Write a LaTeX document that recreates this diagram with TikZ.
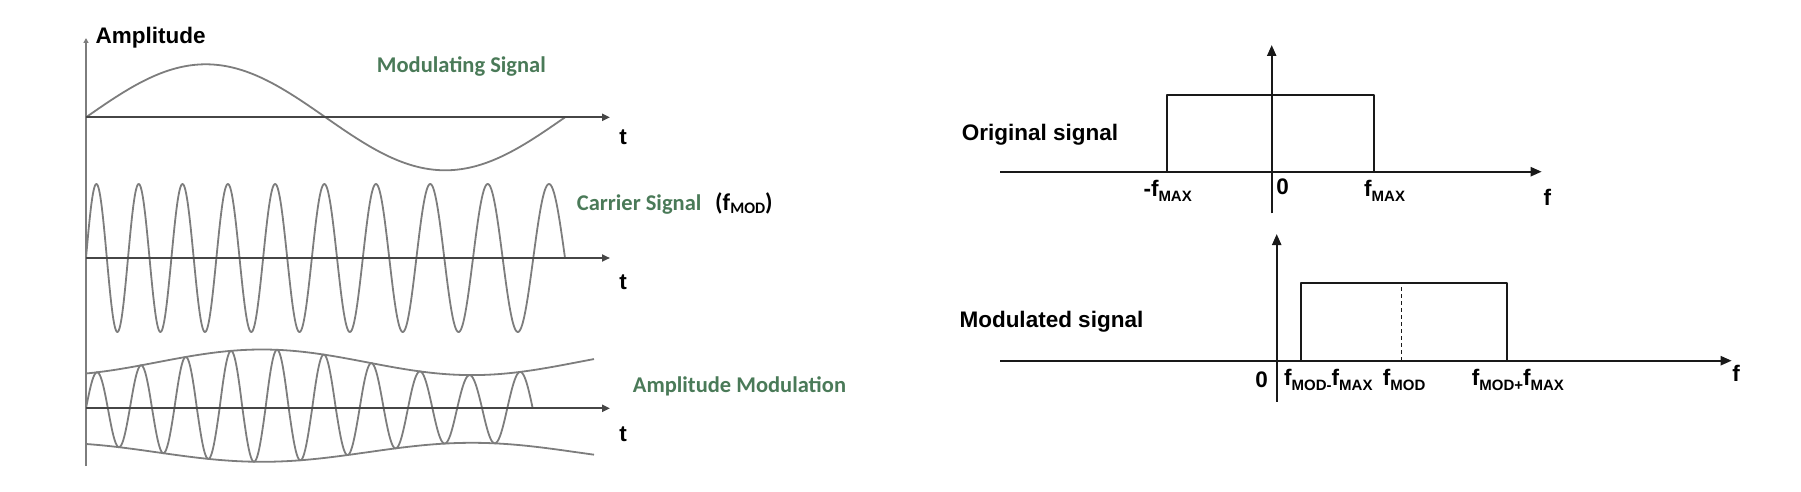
\documentclass[tikz,border=0pt]{standalone}
\usepackage{fontspec}
\setmainfont{Liberation Sans}
\newfontfamily\calib{Carlito}
\usetikzlibrary{arrows.meta}
\definecolor{lblgreen}{RGB}{74,122,88}
\definecolor{wavegray}{RGB}{125,125,125}
\definecolor{axisgray}{RGB}{70,70,70}
\definecolor{specblack}{RGB}{25,25,25}
\newcommand{\subtx}[1]{\raisebox{-5pt}{\fontsize{15}{15}\selectfont #1}}
\newcommand{\subcb}[1]{\raisebox{-3pt}{\fontsize{16}{16}\selectfont #1}}
\begin{document}
\begin{tikzpicture}[x=1pt,y=-1pt,line join=round,
  declare function={
    sC(\t)=(\t-86)/479;
    phC(\t)=3420*(sC(\t)+0.22*sC(\t)*(1-sC(\t)));
    sA(\t)=(\t-86)/446.7;
    phA(\t)=3420*(sA(\t)+0.08*sA(\t)*(1-sA(\t)));
    thA(\t)=(\t-262)/420*360;
    amU(\t)=46+12.8*cos(thA(\t));
    amL(\t)=44+9.5*cos(thA(\t));
    modS(\t)=117.3-53*sin((\t-86)/479*360);
  },
  wave/.style={draw=wavegray, line width=1.8pt},
  taxis/.style={draw=axisgray, line width=2.2pt, -{Triangle[length=8pt,width=7pt]}},
  vaxis/.style={draw=wavegray, line width=2pt, -{Triangle[length=5pt,width=5pt]}},
  saxis/.style={draw=specblack, line width=2.2pt, -{Triangle[length=11pt,width=9pt]}},
  sline/.style={draw=specblack, line width=2.2pt},
  dline/.style={draw=specblack, line width=1.5pt, dash pattern=on 4pt off 3pt},
  lbl/.style={inner sep=0pt, anchor=base west, font=\fontsize{22.5}{27}\selectfont\bfseries},
  clbl/.style={lbl, anchor=base},
  glbl/.style={inner sep=0pt, anchor=base west, font=\fontsize{22.5}{27}\selectfont\calib\bfseries, text=lblgreen},
  blbl/.style={inner sep=0pt, anchor=base west, font=\fontsize{24}{28}\selectfont\calib\bfseries}
]
\useasboundingbox (0,0) rectangle (1801,492);

% ---------- left panel: time domain ----------
\coordinate (vbot) at (86,466);
\coordinate (vtop) at (86,38);
\coordinate (a1s) at (86,117.3);  \coordinate (a1e) at (610,117.3);
\coordinate (a2s) at (86,258);    \coordinate (a2e) at (610,258);
\coordinate (a3s) at (86,408.3);  \coordinate (a3e) at (610,408.3);

% waves
\draw[wave] plot[domain=86:565, samples=200, smooth] (\x, {modS(\x)});
\draw[wave] plot[domain=86:565, samples=700] (\x, {258-74*sin(phC(\x))});
\draw[wave] plot[domain=86:594, samples=120, smooth] (\x, {408.3-amU(\x)});
\draw[wave] plot[domain=86:594, samples=120, smooth] (\x, {408.3+amL(\x)});
\draw[wave] plot[domain=86:532.7, samples=700] (\x, {408.3-max(sin(phA(\x)),0)*amU(\x)-min(sin(phA(\x)),0)*amL(\x)});

% axes
\draw[vaxis] (vbot) -- (vtop);
\draw[taxis] (a1s) -- (a1e);
\draw[taxis] (a2s) -- (a2e);
\draw[taxis] (a3s) -- (a3e);

% labels
\node[lbl] (amp) at (95.5,44) {Amplitude};
\node[glbl] (modl) at (376.7,73) {Modulating Signal};
\node[glbl] (carl) at (576.7,210.7) {Carrier Signal};
\node[blbl] (fmod) at (715,210.7) {(f\subcb{MOD})};
\node[glbl] (aml) at (632.7,392.3) {Amplitude Modulation};
\node[clbl] (t1) at (623,145) {t};
\node[clbl] (t2) at (623,289.3) {t};
\node[clbl] (t3) at (623,441.7) {t};

% ---------- right panel: spectra ----------
\coordinate (ual) at (1000,171.7);   \coordinate (uar) at (1541.7,171.7);
\coordinate (uvb) at (1271.7,213.3); \coordinate (uvt) at (1271.7,45);
\coordinate (lal) at (1000,360.7);   \coordinate (lar) at (1731.7,360.7);
\coordinate (lvb) at (1276.7,401.7); \coordinate (lvt) at (1276.7,234);

\coordinate (r1a) at (1167.3,171.7); \coordinate (r1b) at (1167.3,95);
\coordinate (r1c) at (1374.3,95);    \coordinate (r1d) at (1374.3,171.7);
\coordinate (r2a) at (1300.7,360.7); \coordinate (r2b) at (1300.7,282.7);
\coordinate (r2c) at (1506.7,282.7); \coordinate (r2d) at (1506.7,360.7);
\coordinate (dsb) at (1401.7,360.7); \coordinate (dst) at (1401.7,282.7);

\draw[sline] (r1a) -- (r1b) -- (r1c) -- (r1d);
\draw[sline] (r2a) -- (r2b) -- (r2c) -- (r2d);
\draw[dline] (dsb) -- (dst);
\draw[saxis] (ual) -- (uar);
\draw[saxis] (uvb) -- (uvt);
\draw[saxis] (lal) -- (lar);
\draw[saxis] (lvb) -- (lvt);

\node[lbl] (orig) at (961.7,140) {Original signal};
\node[lbl] (modd) at (959.3,327.7) {Modulated signal};
\node[lbl] (mfmax) at (1143.3,196.7) {-f\subtx{MAX}};
\node[clbl] (zero1) at (1282.7,194) {0};
\node[lbl] (pfmax) at (1364,196.7) {f\subtx{MAX}};
\node[clbl] (f1) at (1547.3,205) {f};
\node[clbl] (zero2) at (1261.7,387.3) {0};
\node[lbl] (lowb) at (1284,385) {f\subtx{MOD-}f\subtx{MAX}};
\node[lbl] (cent) at (1382.7,385) {f\subtx{MOD}};
\node[lbl] (uppb) at (1471.7,385) {f\subtx{MOD+}f\subtx{MAX}};
\node[clbl] (f2) at (1736,381.7) {f};
\end{tikzpicture}
\end{document}
